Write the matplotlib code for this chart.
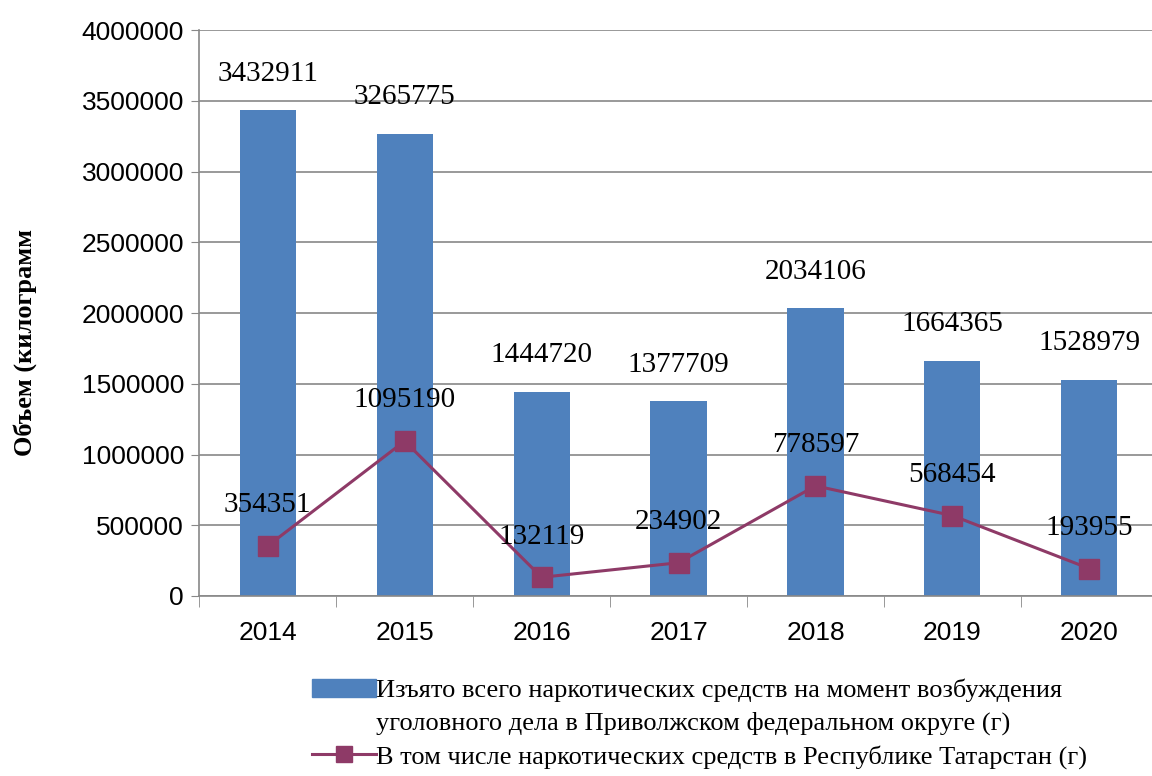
import numpy as np
import matplotlib.pyplot as plt
from matplotlib.lines import Line2D
from matplotlib.patches import Patch

# Данные графика
years = ["2014", "2015", "2016", "2017", "2018", "2019", "2020"]
pfo_total = [3432911, 3265775, 1444720, 1377709, 2034106, 1664365, 1528979]
tatarstan = [354351, 1095190, 132119, 234902, 778597, 568454, 193955]

bar_label_1 = "Изъято всего наркотических средств на момент возбуждения"
bar_label_2 = "уголовного дела в Приволжском федеральном округе (г)"
line_label = "В том числе наркотических средств в Республике Татарстан (г)"

bar_color = "#4F81BD"
line_color = "#8E3A67"

fig = plt.figure(figsize=(11.52, 7.76), dpi=100)
ax = fig.add_axes([0.173, 0.232, 0.832, 0.729])

x = np.arange(len(years))
ax.bar(x, pfo_total, width=0.41, color=bar_color, zorder=2)
ax.plot(x, tatarstan, color=line_color, lw=2.2, marker="s", ms=15, zorder=3)

# подписи значений
for xi, v in zip(x, pfo_total):
    ax.annotate(str(v), (xi, v), xytext=(0, 17), textcoords="offset points",
                ha="center", va="bottom", fontsize=21, family="Liberation Serif")
for xi, v in zip(x, tatarstan):
    ax.annotate(str(v), (xi, v), xytext=(0, 20), textcoords="offset points",
                ha="center", va="bottom", fontsize=21, family="Liberation Serif")

ax.set_xlim(-0.5, len(years) - 0.5)
ax.set_ylim(0, 4000000)
ax.set_yticks(np.arange(0, 4000001, 500000))
ax.set_yticklabels([str(v) for v in range(0, 4000001, 500000)],
                   fontsize=19, family="Liberation Sans")
ax.set_xticks(x)
ax.set_xticklabels(years, fontsize=19, family="Liberation Sans")
ax.tick_params(axis="x", length=0, pad=18)
ax.tick_params(axis="y", length=6, color="#888888", pad=5)
ax.set_xticks(np.arange(-0.5, len(years), 1), minor=True)
ax.tick_params(axis="x", which="minor", length=8, color="#888888")
ax.grid(axis="y", color="#888888", lw=1.2, zorder=0)
for s in ["top", "right"]:
    ax.spines[s].set_visible(False)
ax.spines["left"].set_color("#888888")
ax.spines["bottom"].set_color("#888888")
ax.spines["left"].set_linewidth(1.2)
ax.spines["bottom"].set_linewidth(1.2)

fig.text(0.022, 0.558, "Объем (килограмм", rotation=90, ha="center", va="center",
         fontsize=19, fontweight="bold", family="Liberation Serif")

handles = [Patch(color=bar_color),
           Patch(color="none"),
           Line2D([0], [0], color=line_color, lw=2.2, marker="s", ms=12)]
leg = fig.legend(handles, [bar_label_1, bar_label_2, line_label], loc="upper left",
                 bbox_to_anchor=(0.262, 0.139), frameon=False,
                 prop={"family": "Liberation Serif", "size": 19},
                 handlelength=2.4, handleheight=0.65, handletextpad=0.0,
                 labelspacing=0.36, borderaxespad=0)

fig.savefig("out.png", dpi=100)
